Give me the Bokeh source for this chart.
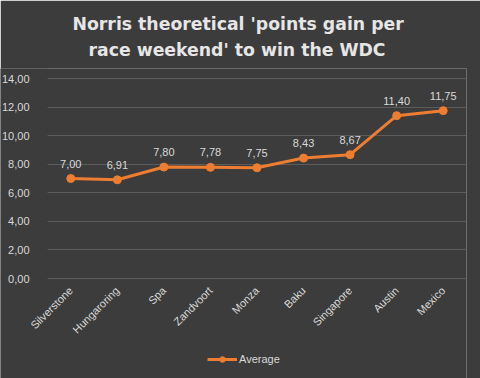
from bokeh.plotting import figure
from bokeh.models import (ColumnDataSource, FixedTicker, CustomJSTickFormatter, LabelSet,
                          Legend, LegendItem, Title, BoxAnnotation, Range1d)
from bokeh.core.properties import value
from bokeh.embed import file_html
from bokeh.resources import INLINE
import math

races = ["Silverstone", "Hungaroring", "Spa", "Zandvoort", "Monza", "Baku", "Singapore", "Austin", "Mexico"]
average = [7.00, 6.91, 7.80, 7.78, 7.75, 8.43, 8.67, 11.40, 11.75]
y_ticks = [0, 2, 4, 6, 8, 10, 12, 14]
title_lines = ["Norris theoretical 'points gain per", "race weekend' to win the WDC"]
series_name = "Average"

BG = "#3c3c3c"
ORANGE = "#ED7D31"
TXT = "#d9d9d9"

xs = list(range(len(races)))
src = ColumnDataSource(dict(x=xs, y=average,
                            lbl=[f"{v:.2f}".replace(".", ",") for v in average]))

# frame covers the label areas so the axes (drawn at fixed locations) and legend fit inside it
p = figure(x_range=Range1d(-1.51, len(races) - 0.5), y_range=(-7, 14.7),
           frame_width=466, frame_height=310,
           min_border_left=0, min_border_right=14, min_border_top=68, min_border_bottom=0,
           output_backend="svg", toolbar_location=None,
           background_fill_color=BG, border_fill_color=BG, outline_line_color=None)

spacer = Title(text=" ", text_font_size="1px", standoff=2)
p.add_layout(spacer, "above")
t2 = Title(text=title_lines[1], align="left", offset=88, text_font="DejaVu Sans", text_font_style="bold",
           text_font_size="17.3px", text_color="#e6e6e6", standoff=8)
p.add_layout(t2, "above")
t1 = Title(text=title_lines[0], align="left", offset=72, text_font="DejaVu Sans", text_font_style="bold",
           text_font_size="17.3px", text_color="#e6e6e6", standoff=0)
p.add_layout(t1, "above")

p.xgrid.grid_line_color = None
p.ygrid.grid_line_color = "#5c5c5c"
p.ygrid.grid_line_width = 1
p.yaxis.ticker = FixedTicker(ticks=y_ticks)
p.yaxis.formatter = CustomJSTickFormatter(code="return tick.toFixed(2).replace('.', ',');")
p.xaxis.ticker = FixedTicker(ticks=xs)
p.xaxis.major_label_overrides = {i: name for i, name in zip(xs, races)}
for ax in (p.xaxis, p.yaxis):
    ax.axis_line_color = None
    ax.major_tick_line_color = None
    ax.minor_tick_line_color = None
    ax.major_label_text_color = TXT
    ax.major_label_text_font = "Liberation Sans"
    ax.major_label_text_font_size = "11px"
p.yaxis.fixed_location = -0.5
p.yaxis.major_label_standoff = 12
p.xaxis.fixed_location = 0
p.xaxis.major_label_orientation = math.pi / 4
p.xaxis.major_label_standoff = 4

# hide the part of the gridlines left of the plotting area (behind the value labels)
mask = BoxAnnotation(right=-0.5, fill_color=BG, fill_alpha=1, line_color=None, level="underlay")
p.add_layout(mask)

ln = p.line("x", "y", source=src, line_color=ORANGE, line_width=3)
sc = p.scatter("x", "y", source=src, size=8, fill_color=ORANGE, line_color=ORANGE)

labels = LabelSet(x="x", y="y", text="lbl", source=src, y_offset=11, text_align="center",
                  text_baseline="bottom", text_color=TXT, text_font=value("Liberation Sans"),
                  text_font_size=value("11px"))
p.add_layout(labels)

legend = Legend(items=[LegendItem(label=series_name, renderers=[ln, sc])],
                location=(207, 12), orientation="horizontal",
                background_fill_alpha=0, border_line_alpha=0, padding=0, margin=0,
                glyph_width=30, glyph_height=14, label_standoff=2,
                label_text_color=TXT, label_text_font="Liberation Sans", label_text_font_size="11px")
p.add_layout(legend)

open("out.html", "w").write(file_html(p, INLINE))
